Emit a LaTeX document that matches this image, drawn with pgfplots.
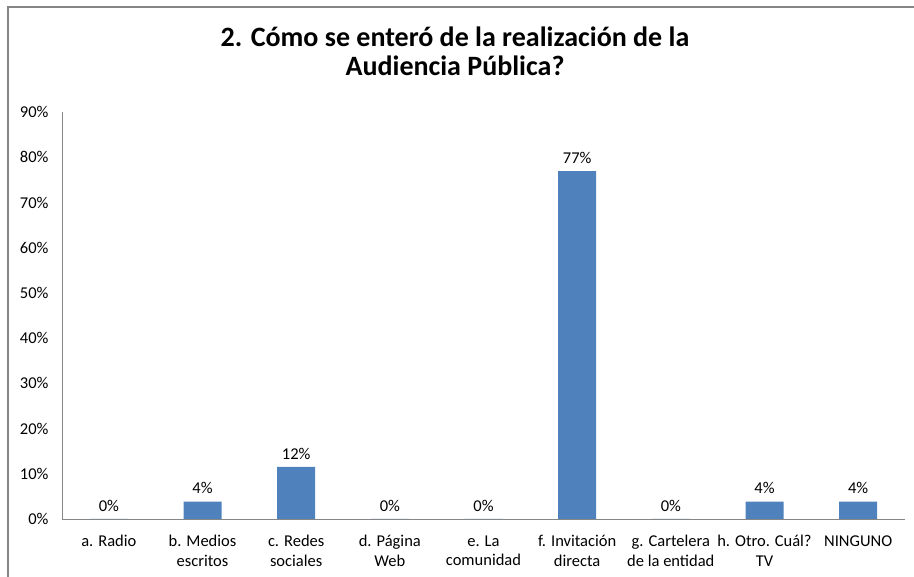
\documentclass[border=0pt]{standalone}
\usepackage{pgfplots}
\pgfplotsset{compat=1.18}
\usepackage{fontspec}
\setmainfont{Carlito}
\definecolor{barblue}{HTML}{4F81BD}
\definecolor{axgray}{HTML}{868686}
\begin{document}
\begin{tikzpicture}[x=1pt,y=1pt]
\path[use as bounding box] (0,0) rectangle (914,577);
\draw[axgray, line width=1.5pt] (8,0) -- (8,570) -- (914,570);
\node[align=center, font=\bfseries\fontsize{28}{29}\selectfont] at (455,526) {2. Cómo se enteró de la realización de la\\Audiencia Pública?};
\begin{axis}[
  at={(62pt,58pt)}, anchor=south west,
  scale only axis,
  width=843pt, height=407pt,
  ybar, bar width=38pt,
  xmin=-0.5, xmax=8.5,
  ymin=0, ymax=90,
  axis x line*=bottom, axis y line*=left,
  axis line style={axgray, line width=0.9pt, -},
  major tick length=0pt,
  xtick={0,...,8},
  xticklabels={a. Radio, b. Medios\\escritos, c. Redes\\sociales, d. Página\\Web, e. La\\comunidad, f. Invitación\\directa, g. Cartelera\\de la entidad, h. Otro. Cuál?\\TV, NINGUNO},
  xticklabel style={align=center, font=\fontsize{16.5}{19.5}\selectfont, yshift=-13pt},
  ytick={0,10,...,90},
  yticklabel={\pgfmathprintnumber{\tick}\%},
  yticklabel style={font=\fontsize{16.5}{19}\selectfont, xshift=-10pt},
  /pgf/number format/assume math mode=true,
  nodes near coords={\pgfmathprintnumber[fixed,precision=0]{\pgfplotspointmeta}\%},
  nodes near coords style={font=\fontsize{16.5}{19}\selectfont, black, yshift=4pt},
]
\addplot[fill=barblue, draw=none] coordinates {
  (0,0) (1,3.85) (2,11.54) (3,0) (4,0) (5,76.92) (6,0) (7,3.85) (8,3.85)
};
\end{axis}
\end{tikzpicture}
\end{document}
